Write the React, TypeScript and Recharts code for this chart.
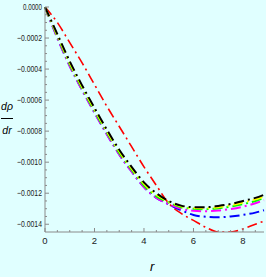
import React from 'react'
import { LineChart, Line, XAxis, YAxis } from 'recharts'

const R = [0, 0.5, 1, 1.5, 2, 2.5, 3, 3.5, 4, 4.5, 5, 5.5, 6, 6.5, 7, 7.5, 8, 8.5, 8.85]

const BLACK = [0, -0.000175, -0.00035, -0.000505, -0.00065, -0.00079, -0.00092, -0.00103, -0.00113, -0.0012, -0.00125, -0.00128, -0.00129, -0.00129, -0.001282, -0.00127, -0.00125, -0.00123, -0.00121]
const YELLOW = [0, -0.000183, -0.00036, -0.000515, -0.00066, -0.0008, -0.00093, -0.00104, -0.00114, -0.00121, -0.001255, -0.001285, -0.001296, -0.001297, -0.00129, -0.001278, -0.00126, -0.00124, -0.00122]
const GREEN = [0, -0.00019, -0.00037, -0.000525, -0.00067, -0.00081, -0.00094, -0.00105, -0.00115, -0.00122, -0.00126, -0.00129, -0.0013, -0.001303, -0.001297, -0.001287, -0.00127, -0.00125, -0.00123]
const MAGENTA = [0, -0.0002, -0.00038, -0.000535, -0.00068, -0.00082, -0.00095, -0.00106, -0.00116, -0.00123, -0.00127, -0.0013, -0.001313, -0.001316, -0.001312, -0.001302, -0.001287, -0.001265, -0.001245]
const BLUE = [0, -0.0002, -0.00038, -0.000535, -0.00068, -0.00082, -0.00095, -0.00106, -0.00116, -0.00123, -0.001272, -0.00131, -0.00134, -0.001352, -0.001355, -0.00135, -0.00134, -0.001325, -0.00131]
const RED = [0, -0.0001, -0.00023, -0.00036, -0.0005, -0.00064, -0.00077, -0.0009, -0.00103, -0.00115, -0.001265, -0.00133, -0.001375, -0.00142, -0.00145, -0.00145, -0.00143, -0.0014, -0.00138]

const X_TICKS = [0, 0.5, 1, 1.5, 2, 2.5, 3, 3.5, 4, 4.5, 5, 5.5, 6, 6.5, 7, 7.5, 8, 8.5]
const X_LABELS = [0, 2, 4, 6, 8]
const Y_TICKS = [0, -0.00005, -0.0001, -0.00015, -0.0002, -0.00025, -0.0003, -0.00035, -0.0004, -0.00045, -0.0005, -0.00055, -0.0006, -0.00065, -0.0007, -0.00075, -0.0008, -0.00085, -0.0009, -0.00095, -0.001, -0.00105, -0.0011, -0.00115, -0.0012, -0.00125, -0.0013, -0.00135, -0.0014]
const Y_LABELS = [0, -0.0002, -0.0004, -0.0006, -0.0008, -0.001, -0.0012, -0.0014]

const SERIES = [
  { key: 'red', color: '#ff0000', values: RED, width: 1.6 },
  { key: 'blue', color: '#0000ff', values: BLUE, width: 2 },
  { key: 'magenta', color: '#ff00ff', values: MAGENTA, width: 2 },
  { key: 'green', color: '#00ff00', values: GREEN, width: 2 },
  { key: 'yellow', color: '#ffff00', values: YELLOW, width: 2 },
  { key: 'black', color: '#000000', values: BLACK, width: 2 },
]

const data = R.map((r, i) => {
  const row: Record<string, number> = { r }
  SERIES.forEach((s) => (row[s.key] = s.values[i]))
  return row
})

const FRAME = '#8a8a8a'
const FONT = '"Liberation Sans Narrow", "Arial Narrow", "Liberation Sans", sans-serif'

const isLabel = (list: number[], v: number) => list.some((l) => Math.abs(l - v) < 1e-9)

const fmtY = (v: number) => (v === 0 ? '0.0000' : '\u2212' + Math.abs(v).toFixed(4))

function BottomTick(props: any) {
  const { x, y, payload } = props
  const major = isLabel(X_LABELS, payload.value)
  return (
    <g>
      <line x1={x} x2={x} y1={y} y2={y - (major ? 4 : 2)} stroke={FRAME} />
      {major && (
        <text x={x} y={y + 12} textAnchor="middle" fontSize={9.5} fontFamily={FONT} fill="#222">
          {payload.value}
        </text>
      )}
    </g>
  )
}

function TopTick(props: any) {
  const { x, y, payload } = props
  const major = isLabel(X_LABELS, payload.value)
  return <line x1={x} x2={x} y1={y} y2={y + (major ? 4 : 2)} stroke={FRAME} />
}

function LeftTick(props: any) {
  const { x, y, payload } = props
  const major = isLabel(Y_LABELS, payload.value)
  const w = payload.value === 0 ? 19 : 25
  return (
    <g>
      <line x1={x} x2={x + (major ? 4 : 2)} y1={y} y2={y} stroke={FRAME} />
      {major && (
        <text
          x={x - 3 - w}
          y={y + 3.2}
          textLength={w}
          lengthAdjust="spacingAndGlyphs"
          fontSize={9}
          fontFamily={FONT}
          fill="#222"
        >
          {fmtY(payload.value)}
        </text>
      )}
    </g>
  )
}

function RightTick(props: any) {
  const { x, y, payload } = props
  const major = isLabel(Y_LABELS, payload.value)
  return <line x1={x} x2={x - (major ? 4 : 2)} y1={y} y2={y} stroke={FRAME} />
}

export default function App() {
  return (
    <div style={{ position: 'absolute', left: 0, top: 0, width: 266, height: 277, background: '#e0ffff' }}>
      <LineChart width={266} height={277} data={data} margin={{ top: 7, right: 2, left: 0, bottom: 0 }}>
        <XAxis
          xAxisId="b"
          dataKey="r"
          type="number"
          domain={[0, 8.85]}
          ticks={X_TICKS}
          tick={<BottomTick />}
          tickLine={false}
          tickSize={0}
          tickMargin={0}
          height={45}
          stroke={FRAME}
          interval={0}
        />
        <XAxis
          xAxisId="t"
          dataKey="r"
          type="number"
          orientation="top"
          domain={[0, 8.85]}
          ticks={X_TICKS}
          tick={<TopTick />}
          tickLine={false}
          tickSize={0}
          tickMargin={0}
          height={0}
          stroke={FRAME}
          interval={0}
        />
        <YAxis
          yAxisId="l"
          type="number"
          domain={[-0.00145, 0]}
          ticks={Y_TICKS}
          tick={<LeftTick />}
          tickLine={false}
          tickSize={0}
          tickMargin={0}
          width={45}
          stroke={FRAME}
          interval={0}
          allowDataOverflow
        />
        <YAxis
          yAxisId="r"
          orientation="right"
          type="number"
          domain={[-0.00145, 0]}
          ticks={Y_TICKS}
          tick={<RightTick />}
          tickLine={false}
          tickSize={0}
          tickMargin={0}
          width={0}
          stroke={FRAME}
          interval={0}
        />
        {SERIES.map((s) => (
          <Line
            key={s.key}
            xAxisId="b"
            yAxisId="l"
            type="monotone"
            dataKey={s.key}
            stroke={s.color}
            strokeWidth={s.width}
            strokeDasharray="10 4 2 4"
            dot={false}
            isAnimationActive={false}
          />
        ))}
      </LineChart>
      <div style={{ position: 'absolute', left: 1, top: 100, width: 12, fontFamily: FONT, fontStyle: 'italic', fontSize: 10.5, lineHeight: '12px' }}>
        <span style={{ display: 'inline-block', width: 12, textAlign: 'center' }}>d&rho;</span>
        <div style={{ borderTop: '1px solid #000', margin: '6px 0 5px 0' }} />
        <span style={{ display: 'inline-block', width: 12, textAlign: 'center' }}>dr</span>
      </div>
      <div style={{ position: 'absolute', left: 150, top: 259, fontFamily: FONT, fontStyle: 'italic', fontSize: 13 }}>r</div>
    </div>
  )
}
